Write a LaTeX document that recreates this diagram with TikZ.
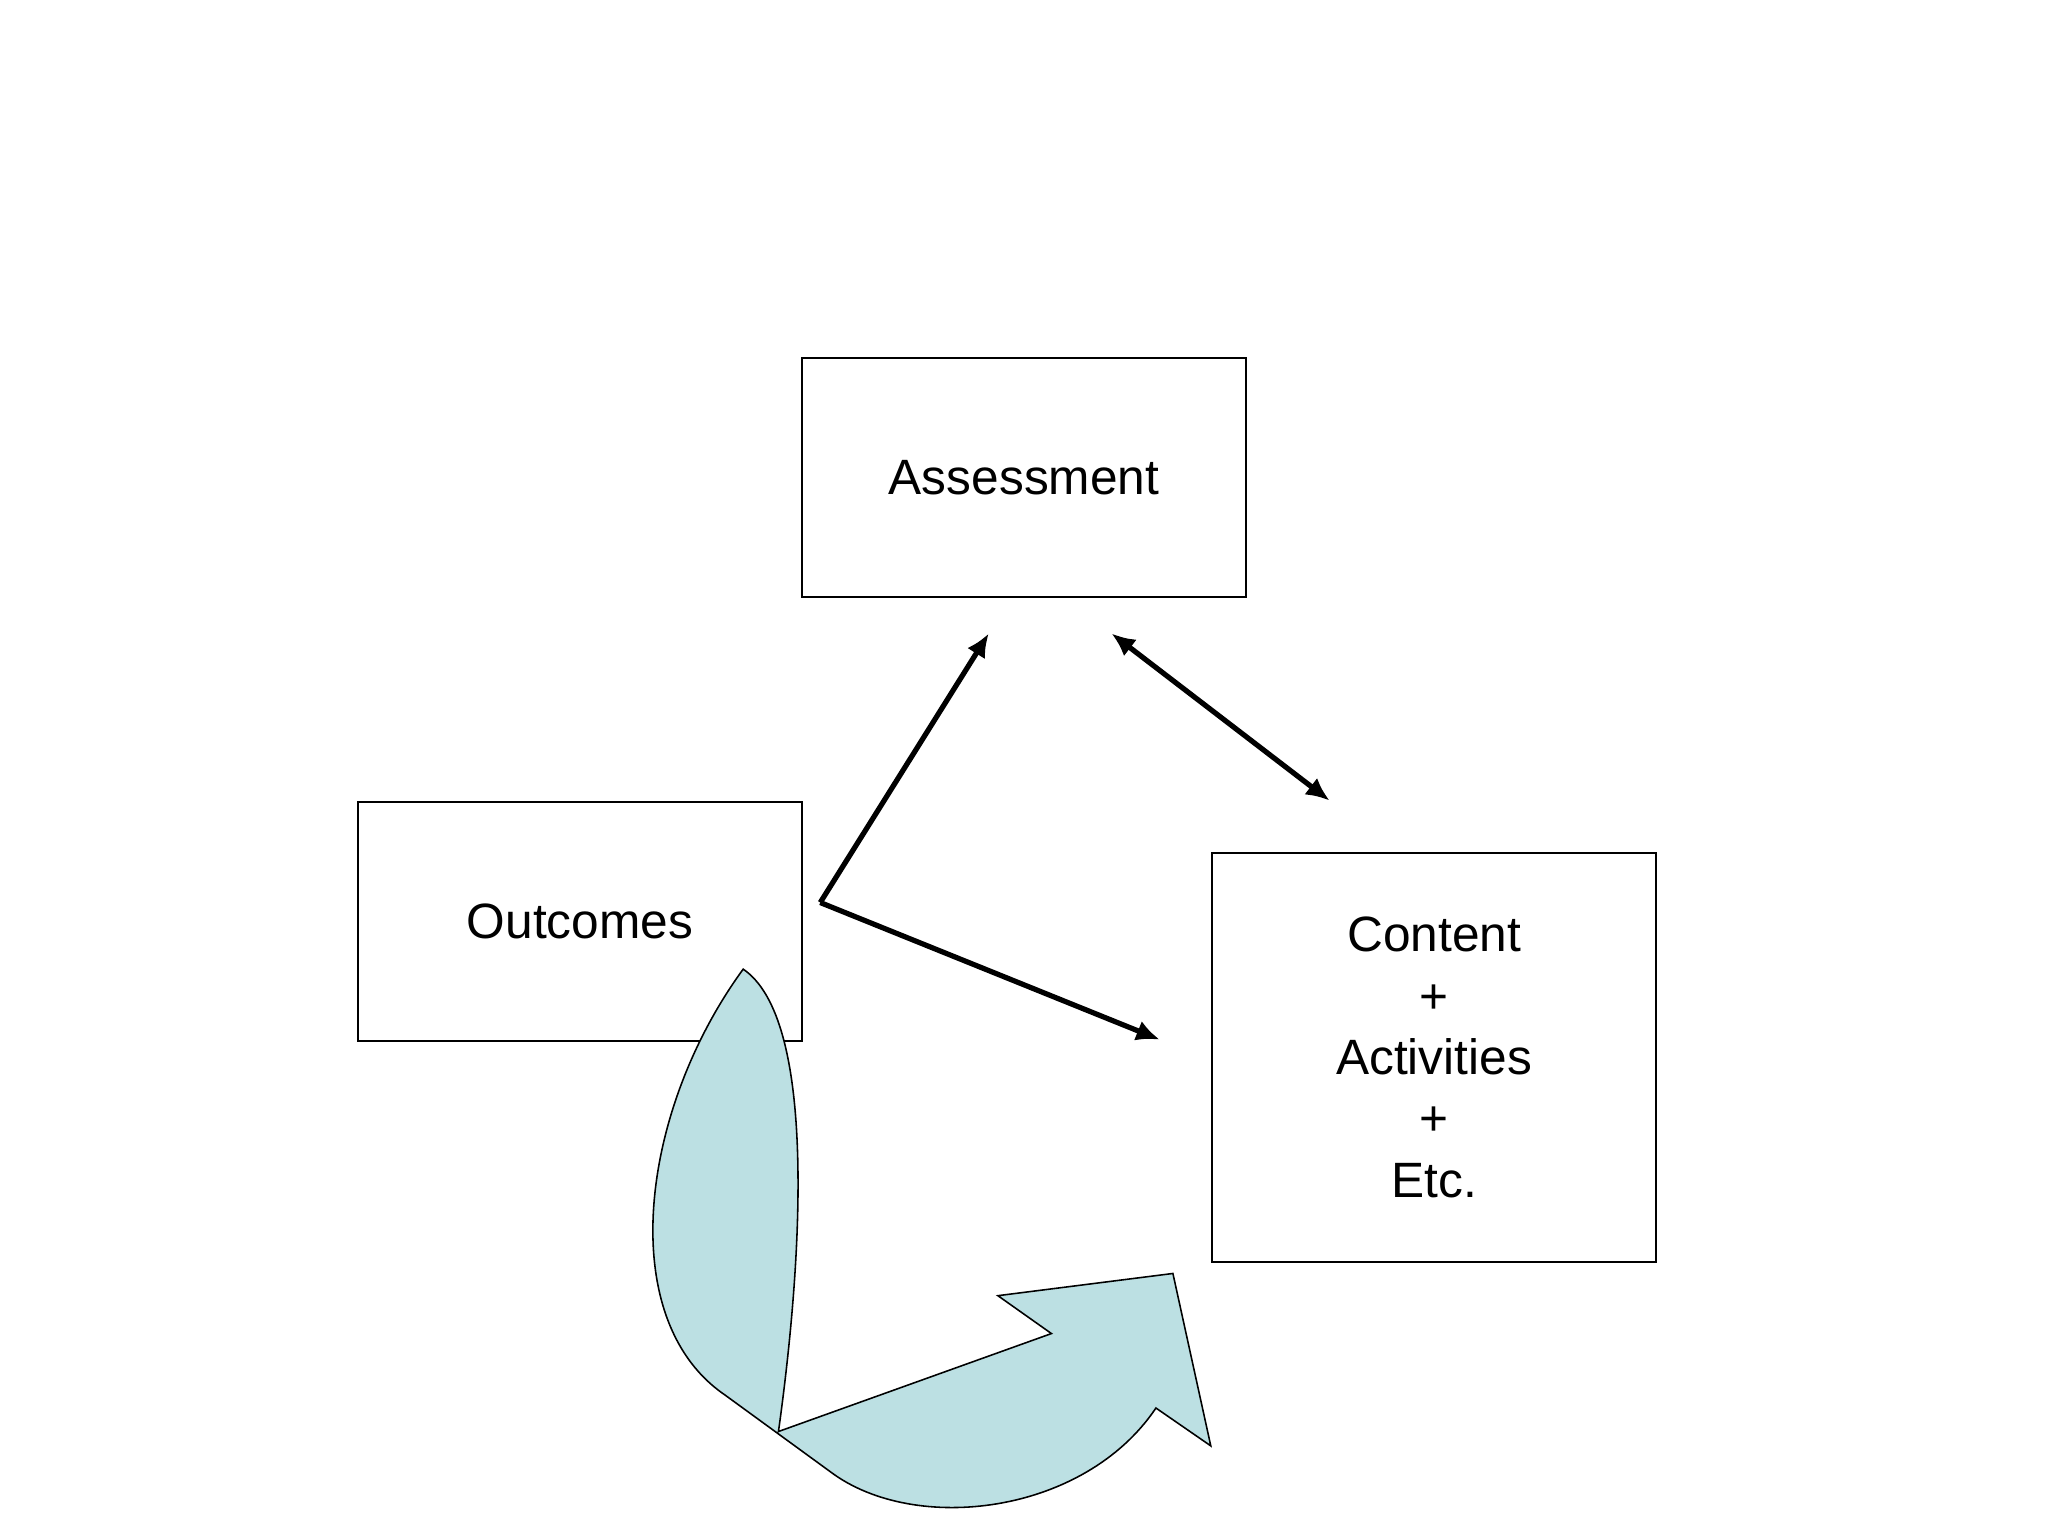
\documentclass[tikz,border=0pt]{standalone}
\usepackage{fontspec}
\setmainfont{Liberation Sans}
\usetikzlibrary{arrows.meta}
\begin{document}
\begin{tikzpicture}[x=0.5pt,y=-0.5pt,
  box/.style={draw,line width=0.7pt,minimum width=170pt,inner sep=0pt,font=\fontsize{19}{23.5}\selectfont,align=center},
  arr/.style={line width=2pt,-{Latex[length=9pt,width=8pt]}}]
\useasboundingbox (0,0) rectangle (1568,1176);
\node[box,minimum height=91.5pt] (A) at (784,365.5) {Assessment};
\node[box,minimum height=91.5pt] (O) at (444,705.5) {Outcomes};
\node[box,minimum height=156.5pt] (C) at (1098,809.5) {Content\\+\\Activities\\+\\Etc.};
\coordinate (s) at (628,691);
\coordinate (a1) at (757,485);
\coordinate (c1) at (888,796);
\coordinate (d1) at (851,485);
\coordinate (d2) at (1018,613);
\draw[arr] (s) -- (a1);
\draw[arr] (s) -- (c1);
\draw[line width=2pt,{Latex[length=9pt,width=8pt]}-{Latex[length=9pt,width=8pt]}] (d1) -- (d2);
\draw[fill={rgb,255:red,188;green,224;blue,227},line width=0.6pt,line join=miter]
 (569,742) .. controls (490,850) and (470,1010) .. (555,1068)
 -- (636,1127) .. controls (700,1175) and (830,1160) .. (885,1078)
 -- (927,1107) -- (898,975) -- (764,992) -- (805,1021) -- (596,1096)
 .. controls (615,960) and (625,780) .. cycle;
\end{tikzpicture}
\end{document}
